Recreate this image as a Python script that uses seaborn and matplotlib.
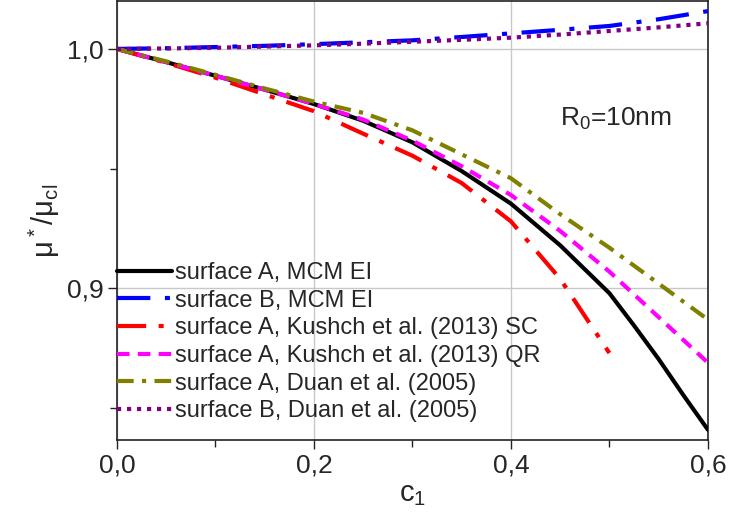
import matplotlib
matplotlib.use("Agg")
import matplotlib.pyplot as plt
import seaborn as sns
import pandas as pd
from matplotlib.ticker import FixedLocator, FuncFormatter

# Data
c1 = [0.0, 0.05, 0.1, 0.15, 0.2, 0.25, 0.3, 0.35, 0.4, 0.45, 0.5, 0.55, 0.6]
c1_a = [0.0, 0.05, 0.1, 0.15, 0.2, 0.25, 0.3, 0.35, 0.4, 0.45, 0.5, 0.525, 0.55, 0.575, 0.6]
a_mcm = [1.0, 0.9945, 0.9888, 0.983, 0.977, 0.970, 0.961, 0.949, 0.9354, 0.918, 0.898,
         0.8845, 0.8705, 0.8555, 0.841]
b_mcm = [1.0, 1.0003, 1.0008, 1.0013, 1.002, 1.0028, 1.0036, 1.005, 1.0065, 1.008, 1.0096, 1.0124, 1.0158]
c1_sc = [0.0, 0.05, 0.1, 0.15, 0.2, 0.25, 0.3, 0.35, 0.4, 0.45, 0.5]
a_sc = [1.0, 0.9942, 0.988, 0.981, 0.974, 0.9646, 0.9554, 0.944, 0.928, 0.904, 0.873]
a_qr = [1.0, 0.9945, 0.9888, 0.983, 0.977, 0.9705, 0.9617, 0.951, 0.939, 0.924, 0.907, 0.888, 0.869]
a_duan = [1.0, 0.9948, 0.9892, 0.9835, 0.978, 0.9733, 0.966, 0.956, 0.946, 0.931, 0.917, 0.902, 0.887]
b_duan = [1.0, 1.0002, 1.0005, 1.001, 1.0015, 1.0022, 1.003, 1.0038, 1.0047, 1.006, 1.0075, 1.009, 1.0107]

series = [
    ("surface A, MCM EI", c1_a, a_mcm, "#000000", "-"),
    ("surface B, MCM EI", c1, b_mcm, "#0000ff", (0, (8, 3.5, 1.2, 3.5))),
    ("surface A, Kushch et al. (2013) SC", c1_sc, a_sc, "#ff0000", (0, (7, 3, 1.2, 3))),
    ("surface A, Kushch et al. (2013) QR", c1, a_qr, "#ff00ff", (0, (3, 2))),
    ("surface A, Duan et al. (2005)", c1, a_duan, "#808000", (0, (4, 2, 1, 2))),
    ("surface B, Duan et al. (2005)", c1, b_duan, "#800080", (0, (1, 1.4))),
]

sns.set_style("white")
plt.rcParams["font.family"] = ["Liberation Sans", "DejaVu Sans"]
plt.rcParams["mathtext.default"] = "regular"

fig = plt.figure(figsize=(7.29, 5.28), dpi=100)
ax = fig.add_axes([0.1605, 0.1667, 0.8105, 0.8313])

for label, x, y, color, ls in series:
    df = pd.DataFrame({"c1": x, "mu": y})
    sns.lineplot(data=df, x="c1", y="mu", ax=ax, color=color, linestyle=ls,
                 linewidth=3, label=label, zorder=3)

ax.set_xlim(0, 0.6)
ax.set_ylim(0.8367, 1.02)

ax.xaxis.set_major_locator(FixedLocator([0.0, 0.2, 0.4, 0.6]))
ax.xaxis.set_minor_locator(FixedLocator([0.1, 0.3, 0.5]))
ax.yaxis.set_major_locator(FixedLocator([0.9, 1.0]))
ax.yaxis.set_minor_locator(FixedLocator([0.85, 0.95]))
comma = FuncFormatter(lambda v, pos: f"{v:.1f}".replace(".", ","))
ax.xaxis.set_major_formatter(comma)
ax.yaxis.set_major_formatter(comma)

ax.tick_params(which="major", direction="out", length=6.5, width=1, labelsize=19,
               left=True, bottom=True, color="#222222", pad=3)
ax.tick_params(which="minor", direction="out", length=5, width=1,
               left=True, bottom=True, color="#222222")

ax.grid(True, which="major", color="#c8c8c8", linewidth=1, zorder=0)
for sp in ax.spines.values():
    sp.set_color("#222222")
    sp.set_linewidth(1.2)

ax.set_xlabel("c$_1$", fontsize=21, labelpad=2)
ax.set_ylabel("μ$^*$/μ$_{cl}$", fontsize=21, labelpad=4)

ax.text(0.75, 0.715, "R$_0$=10nm", transform=ax.transAxes, fontsize=19)

ax.legend(loc="lower left", bbox_to_anchor=(0.0, 0.04), frameon=False,
          fontsize=17, handlelength=2.35, handletextpad=0.1, borderpad=0,
          borderaxespad=0, labelspacing=0.24)

fig.savefig("out.png", dpi=100, facecolor="white")
